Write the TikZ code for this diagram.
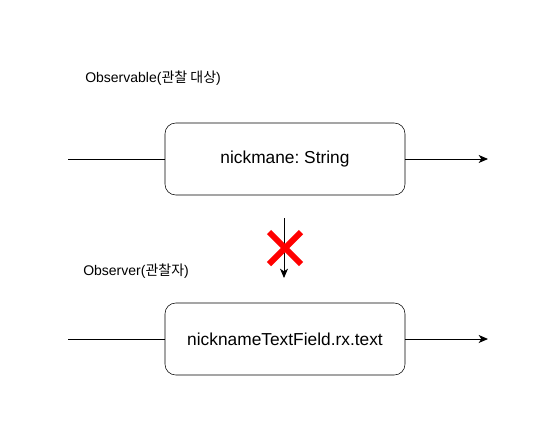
\documentclass[tikz,border=0pt]{standalone}
\usepackage{fontspec}
\setmainfont{Liberation Sans}
\newfontfamily\kr{Noto Sans CJK KR}
\usetikzlibrary{calc}
\usetikzlibrary{positioning}
\usetikzlibrary{arrows.meta}
\frenchspacing

\begin{document}
\begin{tikzpicture}[x=0.75pt, y=-0.75pt,
        box/.style={draw, rounded corners=8pt, minimum width=180pt, minimum height=54pt, font=\fontsize{13pt}{15pt}\selectfont},
        label/.style={anchor=west, inner sep=0pt, font=\fontsize{10.5pt}{12pt}\selectfont},
        flow/.style={draw, line width=0.75pt, arrows={-{Stealth[length=7pt, width=6pt, inset=2pt]}}}]
        \useasboundingbox (0,0) rectangle (560,436);

        \node[label] (observable label) at (85,78) {Observable({\kr 관찰 대상})};
        \node[box] (observable) at (285,159) {nickmane: String};
        \coordinate (observable in) at (68,159);
        \coordinate (observable out) at (488,159);

        \node[label] (observer label) at (83,271) {Observer({\kr 관찰자})};
        \node[box] (observer) at (285,339) {nicknameTextField.rx.text};
        \coordinate (observer in) at (68,339);
        \coordinate (observer out) at (488,339);

        \coordinate (push top) at (284,218);
        \coordinate (push bottom) at (284,278);
        \coordinate (cross) at (285,248);

        \draw[line width=0.75pt] (observable in) -- (observable.west);
        \draw[flow] (observable.east) -- (observable out);
        \draw[line width=0.75pt] (observer in) -- (observer.west);
        \draw[flow] (observer.east) -- (observer out);
        \draw[flow] (push top) -- (push bottom);

        % red cross over the arrow
        \draw[red, line width=4.5pt] ($(cross) + (-16,-16)$) -- ($(cross) + (16,16)$);
        \draw[red, line width=4.5pt] ($(cross) + (-16,16)$) -- ($(cross) + (16,-16)$);
    \end{tikzpicture}
\end{document}
